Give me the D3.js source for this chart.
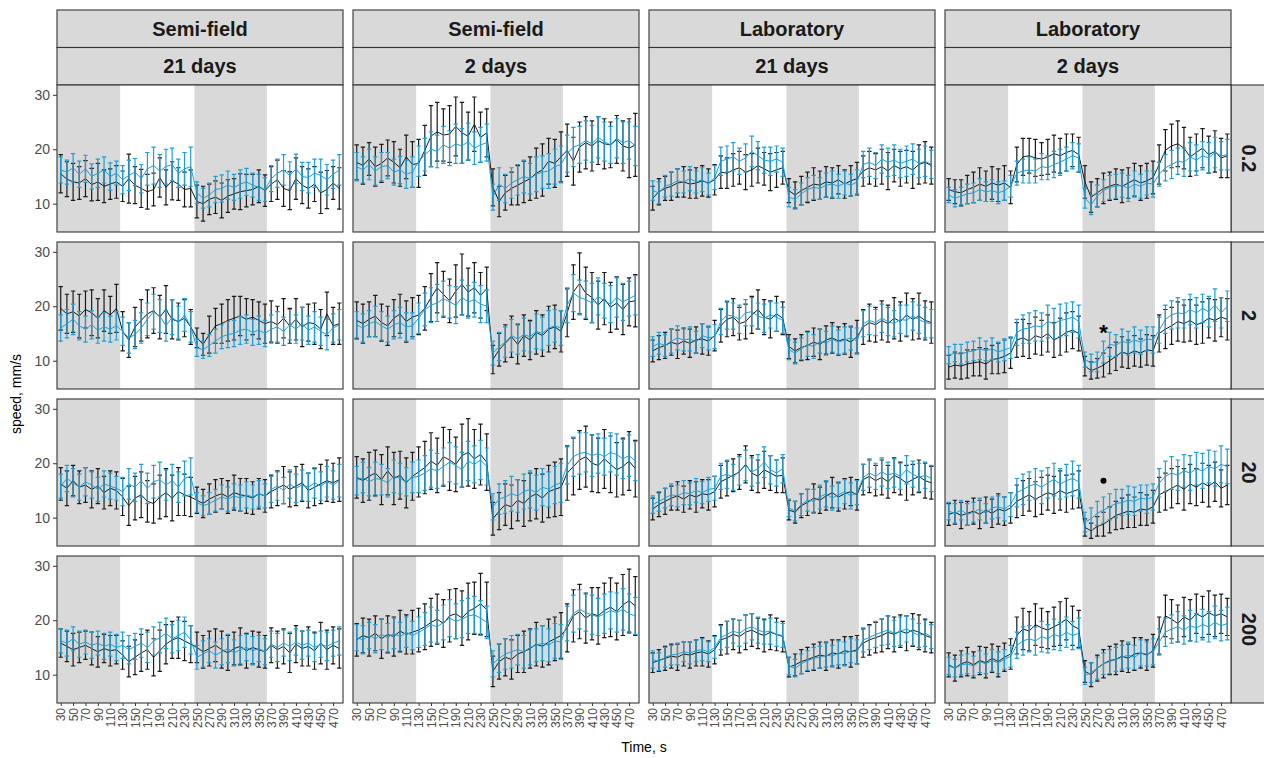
<!DOCTYPE html>
<html>
<head>
<meta charset="utf-8">
<script src="https://cdn.jsdelivr.net/npm/d3@7"></script>
<style>
body { margin: 0; background: #fff; }
text { font-family: "Liberation Sans", Arial, sans-serif; }
</style>
</head>
<body>
<div id="chart"></div>
<script>
// time points (s) and the labels shown on the x axis
var times = [30,40,50,60,70,80,90,100,110,120,130,140,150,160,170,180,190,200,210,220,230,240,
             250,260,270,280,290,300,310,320,330,340,350,360,370,380,390,400,410,420,430,440,450,460,470,480];
var timeLabels = [30,50,70,90,110,130,150,170,190,210,230,250,270,290,310,330,350,370,390,410,430,450,470];
var yTicks = [10,20,30];

// facet labels
var colSetting = ["Semi-field","Semi-field","Laboratory","Laboratory"];
var colDays = ["21 days","2 days","21 days","2 days"];
var rowConc = ["0.2","2","20","200"];

// shaded phases (s)
var darkPhases = [[24,126],[246,363]];

// significance marks
var signifMarks = [
  {row: 1, col: 3, t: 280, v: 16.3, sym: "*"},
  {row: 2, col: 3, t: 280, v: 16.8, sym: "dot"}
];

// ---- conc 0.2 ----
var sf21_c02_blk = [15.5,14.5,14.0,13.8,14.6,13.5,14.0,13.2,13.6,14.0, 13.2,14.6,13.4,12.8,12.2,12.6,14.8,13.0,14.2,13.6,12.6,12.8, 10.4,10.0,10.8,11.2,10.6,11.4,11.8,12.2,12.4,12.6,13.2,12.4, 13.6,14.4,12.8,12.4,14.6,13.4,12.8,13.6,12.0,12.6,13.8,12.8];
var sf21_c02_blk_err = [3.5,3.2,3.4,3.0,3.3,3.0,3.4,3.0,2.8,3.0, 2.8,4.5,3.4,3.5,3.2,3.0,3.6,3.2,3.5,3.0,3.2,3.4, 3.0,3.2,2.8,3.0,3.2,3.0,2.8,3.3,3.0,2.8,3.0,2.9, 3.2,3.6,3.3,3.5,3.8,3.4,3.6,3.2,3.8,3.5,3.0,3.8];
var sf21_c02_blu = [16.2,15.8,16.6,15.4,16.4,15.0,15.6,16.2,15.0,15.6, 14.4,15.2,15.8,14.6,16.4,17.0,16.0,16.8,17.2,15.6,16.4,16.8, 12.0,11.0,11.6,12.6,12.8,13.4,13.0,13.6,14.0,13.4,13.0,12.6, 14.6,15.6,16.2,15.2,16.4,15.0,14.8,15.6,15.2,14.4,15.4,16.2];
var sf21_c02_blu_err = [2.4,2.2,2.6,2.4,2.5,2.3,2.6,2.4,2.5,2.2, 2.6,2.8,2.5,2.6,3.0,3.4,3.0,3.2,3.0,2.6,3.0,3.6, 2.0,1.8,2.2,2.4,2.5,2.6,2.4,2.6,2.5,2.2,2.4,2.2, 2.4,2.6,2.8,2.5,2.7,2.6,2.8,2.6,3.0,2.8,2.6,2.8];

var sf2_c02_blk = [17.6,17.0,18.2,16.8,17.4,18.4,17.6,16.6,18.6,17.2, 17.4,19.8,22.4,23.2,22.6,22.8,24.2,23.0,22.4,24.6,22.2,23.0, 13.0,10.4,12.0,12.8,13.4,14.0,14.6,15.6,16.2,17.8,17.4,18.6, 19.8,17.8,20.4,21.2,20.6,21.6,21.0,20.8,21.8,20.6,20.2,20.8];
var sf2_c02_blk_err = [3.2,3.4,3.0,3.6,3.5,3.3,3.8,3.4,4.0,4.2, 4.4,4.6,5.6,5.4,4.8,5.2,5.4,5.6,4.4,5.0,4.6,4.4, 3.4,2.8,3.2,3.0,3.6,3.8,4.0,4.6,4.8,4.2,4.4,4.6, 4.8,4.4,4.6,4.8,4.6,4.4,4.6,4.2,4.4,4.6,5.4,5.8];
var sf2_c02_blu = [16.8,16.2,17.2,16.0,16.8,17.0,15.8,16.2,15.4,15.8, 17.8,19.0,20.0,19.6,20.8,20.2,21.0,20.6,21.4,20.2,20.8,21.2, 11.2,13.6,12.8,13.8,14.4,15.0,14.6,15.4,15.8,16.0,16.8,17.2, 19.2,20.4,20.8,21.6,21.0,22.2,21.4,20.8,22.0,21.2,21.6,20.6];
var sf2_c02_blu_err = [2.6,2.4,2.8,2.6,2.6,2.4,2.4,2.5,2.6,2.8, 2.8,3.0,3.2,3.0,3.4,3.2,3.6,3.2,3.4,3.0,3.2,3.4, 2.4,3.0,2.6,2.8,2.8,3.0,2.8,3.2,3.0,3.2,3.2,3.4, 3.4,3.6,3.4,3.6,3.4,3.8,3.6,3.4,3.6,3.8,3.4,3.6];

var lab21_c02_blk = [11.0,12.2,12.8,13.2,13.8,14.0,13.6,13.8,14.2,13.8, 14.4,15.8,15.6,16.2,16.6,15.8,16.2,17.0,16.4,15.8,16.2,16.6, 12.4,11.6,12.4,13.0,13.6,13.4,14.0,13.8,14.4,13.6,14.2,14.6, 16.0,16.6,16.2,16.8,16.0,17.0,16.4,16.8,16.2,17.2,17.6,17.0];
var lab21_c02_blk_err = [2.2,2.4,2.2,2.6,2.6,2.8,2.6,2.8,2.8,2.6, 2.8,3.0,2.8,3.0,3.0,3.2,3.0,3.2,3.0,3.4,3.2,3.0, 2.2,2.4,2.6,2.8,3.0,2.6,2.8,2.8,2.6,2.6,2.8,3.0, 2.8,3.0,3.0,3.2,3.4,3.0,3.2,3.0,3.4,3.6,3.8,3.4];
var lab21_c02_blu = [12.4,12.0,13.2,13.6,14.2,14.0,14.6,14.0,14.4,13.6, 14.8,17.8,18.2,18.6,17.8,18.4,19.6,18.8,18.0,17.8,18.2,17.6, 11.2,10.8,11.8,12.6,13.0,12.8,13.4,13.6,13.2,13.8,13.4,14.0, 17.2,17.6,17.0,18.2,17.6,18.0,17.4,17.8,18.2,17.4,17.8,17.2];
var lab21_c02_blu_err = [1.8,2.0,2.0,2.2,2.2,2.0,2.2,2.0,2.2,2.0, 2.2,2.6,2.4,2.6,2.4,2.6,2.8,2.6,2.4,2.6,2.4,2.6, 1.8,1.8,2.0,2.2,2.2,2.0,2.2,2.4,2.2,2.2,2.0,2.2, 2.4,2.6,2.4,2.6,2.6,2.8,2.6,2.8,2.8,2.6,2.8,2.6];

var lab2_c02_blk = [12.6,12.2,12.0,12.6,13.0,13.6,13.2,13.8,13.4,13.8, 13.0,17.2,18.6,18.8,18.4,18.2,18.6,19.2,18.8,19.4,19.8,19.0, 14.0,11.2,12.0,12.8,13.2,13.6,13.2,13.8,14.4,13.8,14.2,14.8, 17.2,19.8,20.6,21.0,20.2,18.6,19.4,20.2,19.0,19.6,18.4,18.8];
var lab2_c02_blk_err = [2.0,2.2,2.4,2.6,2.8,3.0,2.8,3.0,3.0,3.2, 3.0,3.2,3.4,3.2,3.4,3.0,3.2,3.4,3.2,3.4,3.0,3.2, 3.0,2.8,2.6,2.8,2.6,2.8,3.0,2.8,3.0,3.2,3.2,3.0, 3.6,3.8,4.0,4.2,3.8,3.6,3.4,3.6,3.4,3.8,3.6,4.0];
var lab2_c02_blu = [11.6,11.0,11.4,11.8,12.0,12.6,12.2,12.4,12.0,12.4, 13.2,15.6,16.0,16.2,16.0,16.8,16.6,17.2,17.6,18.2,18.8,18.4, 11.0,9.8,11.4,12.4,13.0,13.2,13.4,12.8,13.6,13.2,13.8,13.6, 15.4,16.6,17.2,17.8,17.6,18.6,18.0,18.8,18.4,19.4,18.8,19.0];
var lab2_c02_blu_err = [1.4,1.6,1.6,1.8,1.8,2.0,1.8,2.0,2.0,1.8, 2.0,2.2,2.2,2.4,2.2,2.4,2.2,2.4,2.4,2.2,2.4,2.6, 1.8,1.8,2.0,2.0,2.2,2.2,2.2,2.4,2.4,2.2,2.2,2.4, 2.2,2.4,2.6,2.4,2.6,2.6,2.8,2.6,2.8,2.8,2.6,2.8];

// ---- conc 2 ----
var sf21_c2_blk = [19.6,18.6,19.0,18.2,19.4,18.8,17.8,19.2,18.4,19.6, 15.4,13.8,16.2,17.4,18.6,19.2,18.0,19.4,17.6,17.2,17.8,16.2, 14.2,13.0,14.8,16.4,16.8,17.4,17.8,18.2,17.6,18.0,17.4,16.8, 17.2,16.6,17.8,16.4,17.6,16.2,17.0,16.8,15.8,18.6,16.4,16.8];
var sf21_c2_blk_err = [4.0,3.6,3.8,4.0,3.4,4.2,3.6,3.8,3.4,4.4, 3.6,3.2,3.6,3.8,4.4,4.2,4.0,4.4,3.6,3.4,3.4,3.2, 1.8,2.0,3.4,3.2,3.6,3.8,4.0,3.6,3.8,3.2,3.4,3.6, 3.8,3.4,3.6,3.2,3.8,3.6,3.4,3.8,3.6,4.0,3.4,3.8];
var sf21_c2_blu = [16.0,16.8,17.6,16.4,15.8,16.6,15.6,16.2,15.8,16.4, 15.4,14.2,14.8,16.0,17.6,19.0,18.2,16.4,18.0,17.0,18.4,16.2, 12.4,12.0,12.8,13.6,14.4,14.8,15.0,15.6,15.8,15.2,15.6,15.0, 15.8,16.2,15.4,16.6,15.8,16.8,15.6,16.2,15.4,14.8,16.0,16.6];
var sf21_c2_blu_err = [2.4,2.6,2.8,2.6,2.4,2.6,2.4,2.6,2.4,2.6, 2.6,2.8,2.6,2.8,3.0,3.2,3.0,2.8,3.2,3.0,3.0,2.8, 1.6,1.6,2.0,2.2,2.2,2.4,2.4,2.6,2.6,2.4,2.6,2.4, 2.6,2.8,2.6,2.8,2.6,3.0,2.6,2.8,2.6,2.8,2.6,2.8];

var sf2_c2_blk = [17.4,16.8,17.6,18.2,17.0,16.4,17.8,18.6,17.2,18.0, 18.4,19.6,21.6,23.4,22.2,21.0,22.8,24.0,22.6,23.4,22.0,23.2, 10.2,12.0,13.2,14.4,13.0,14.6,13.8,15.2,14.6,15.8,16.2,15.4, 18.8,22.6,24.2,22.4,21.6,20.2,21.4,19.8,20.6,19.4,20.8,21.0];
var sf2_c2_blk_err = [3.4,3.6,3.2,3.8,3.4,3.6,3.4,3.6,3.8,3.6, 3.6,4.0,4.4,4.6,4.2,4.0,4.8,5.6,4.4,4.6,4.2,4.0, 2.6,3.0,3.4,3.8,3.6,3.8,3.6,4.0,3.8,4.2,4.0,3.8, 4.4,5.0,5.6,4.8,4.6,4.4,4.8,4.6,4.8,4.6,4.4,4.8];
var sf2_c2_blu = [16.6,16.0,16.8,17.2,16.4,15.8,16.6,17.0,16.2,16.4, 17.8,19.4,20.2,20.6,21.4,20.8,20.2,21.6,20.8,21.2,20.4,20.0, 11.4,12.6,13.4,14.6,14.0,14.8,14.4,15.4,15.0,16.0,16.4,16.0, 20.2,22.4,21.6,21.2,20.6,21.8,21.0,20.4,21.6,20.8,21.4,22.0];
var sf2_c2_blu_err = [2.4,2.6,2.4,2.8,2.6,2.4,2.6,2.8,2.6,2.4, 2.8,3.0,3.2,3.4,3.2,3.0,3.4,3.2,3.0,3.2,3.4,3.0, 2.2,2.6,2.8,3.0,2.8,3.0,2.8,3.2,3.0,3.2,3.0,3.2, 3.2,3.4,3.2,3.4,3.6,3.4,3.2,3.4,3.6,3.4,3.2,3.6];

var lab21_c2_blk = [11.8,12.4,12.8,13.4,13.0,13.6,13.2,13.8,14.0,13.6, 14.6,16.4,17.6,18.0,16.8,17.2,18.4,19.4,18.0,17.6,18.6,17.8, 12.6,11.8,12.4,12.8,13.4,13.0,13.8,14.2,13.6,14.0,13.4,14.4, 16.2,17.0,16.6,17.4,16.8,17.8,17.2,18.4,17.6,18.2,17.4,17.0];
var lab21_c2_blk_err = [2.0,2.2,2.4,2.4,2.6,2.4,2.6,2.4,2.8,2.6, 2.8,3.0,3.2,3.4,3.0,3.2,3.4,3.6,3.2,3.4,3.2,3.0, 2.2,2.2,2.4,2.6,2.6,2.8,2.6,2.8,2.6,2.8,2.8,3.0, 3.2,3.4,3.2,3.6,3.4,3.8,3.6,4.0,3.8,4.2,3.6,3.8];
var lab21_c2_blu = [12.6,13.2,12.8,13.6,14.2,13.8,14.0,13.4,14.6,14.2, 14.4,17.2,18.4,18.2,17.6,18.8,19.0,18.2,17.8,18.4,18.0,17.4, 12.0,11.4,12.2,13.0,12.6,13.6,13.2,14.0,13.4,13.8,14.2,13.6, 16.8,17.4,17.0,17.8,17.2,16.8,17.6,17.4,18.2,17.6,17.0,16.8];
var lab21_c2_blu_err = [1.8,2.0,2.0,2.2,2.2,2.0,2.2,2.0,2.2,2.2, 2.2,2.4,2.6,2.4,2.6,2.4,2.6,2.4,2.6,2.4,2.6,2.4, 1.8,2.0,2.0,2.2,2.2,2.2,2.2,2.4,2.2,2.4,2.2,2.4, 2.4,2.6,2.4,2.6,2.6,2.4,2.6,2.8,2.6,2.6,2.8,2.6];

var lab2_c2_blk = [8.8,9.2,9.0,9.4,9.6,9.8,9.4,10.2,10.4,10.8, 11.4,13.8,14.2,13.6,14.6,14.2,15.0,13.8,14.4,15.2,15.6,15.0, 9.0,8.2,8.6,9.2,10.0,10.8,11.6,11.2,11.8,11.4,12.0,11.8, 15.0,15.8,16.4,17.2,16.8,17.4,16.6,17.0,17.8,17.4,18.0,17.6];
var lab2_c2_blk_err = [2.2,2.4,2.4,2.6,2.4,2.6,2.8,2.6,2.8,3.0, 2.8,3.2,3.4,3.2,3.4,3.2,3.4,3.2,3.4,3.6,3.4,3.2, 1.8,1.6,1.8,2.2,2.4,2.6,2.8,2.6,2.8,2.6,2.8,2.8, 3.4,3.6,3.4,3.6,3.4,3.8,3.6,3.8,3.6,3.8,3.6,3.8];
var lab2_c2_blu = [11.0,11.4,11.2,11.6,11.8,12.2,11.8,12.2,11.6,12.0, 12.4,15.2,15.8,16.0,16.4,16.2,17.2,16.8,17.4,17.6,18.0,17.2, 10.2,9.6,9.8,11.6,13.0,12.8,13.6,13.2,13.8,13.4,14.0,13.8, 15.6,17.6,18.4,18.8,18.6,19.4,18.8,19.6,19.0,20.2,18.8,20.0];
var lab2_c2_blu_err = [1.6,1.6,1.8,1.8,1.8,2.0,1.8,2.0,1.8,2.0, 2.0,2.4,2.6,2.8,2.8,2.6,3.0,2.8,3.0,3.0,2.8,3.0, 1.4,1.6,1.8,2.0,2.2,2.0,2.2,2.2,2.4,2.2,2.2,2.4, 2.4,2.6,2.6,2.8,2.6,2.8,2.8,2.6,2.8,3.0,2.8,2.8];

// ---- conc 20 ----
var sf21_c20_blk = [16.2,15.4,16.8,15.6,16.0,15.2,15.8,14.6,15.4,15.0, 13.8,12.2,13.6,14.2,13.0,12.6,13.8,14.6,13.6,14.8,14.2,13.8, 13.2,12.6,13.4,14.0,14.4,13.8,14.6,14.2,14.0,13.6,14.4,14.0, 14.8,15.4,16.0,15.2,15.8,16.4,15.0,15.6,16.2,16.8,16.4,17.0];
var sf21_c20_blk_err = [3.0,3.2,2.8,3.0,3.2,3.4,3.2,3.0,3.2,3.4, 3.4,3.6,4.0,4.2,3.8,3.6,4.0,4.4,4.2,4.4,3.8,3.6, 2.4,2.6,2.8,3.0,2.8,3.0,3.2,3.0,3.2,3.0,2.8,3.0, 3.0,3.2,3.4,3.2,3.6,3.4,3.2,3.4,3.6,3.8,3.6,4.0];
var sf21_c20_blu = [15.8,17.2,16.4,15.6,16.6,16.0,15.2,16.2,15.8,15.4, 14.8,16.2,15.6,16.8,15.4,16.6,17.0,16.0,16.8,15.6,17.2,17.6, 12.8,12.2,12.6,13.2,13.8,13.4,14.0,13.6,14.2,13.8,14.4,14.0, 15.2,15.8,15.0,16.2,15.4,16.0,15.6,16.4,15.8,16.6,16.0,16.8];
var sf21_c20_blu_err = [2.2,2.4,2.6,2.4,2.6,2.4,2.2,2.4,2.4,2.2, 2.6,2.8,2.6,3.0,2.8,3.0,3.2,2.8,3.0,2.8,3.2,3.4, 1.8,1.8,2.0,2.0,2.2,2.2,2.2,2.4,2.4,2.2,2.4,2.2, 2.4,2.6,2.4,2.6,2.6,2.8,2.6,2.8,2.6,2.8,2.6,3.0];

var sf2_c20_blk = [17.4,16.8,17.6,18.2,17.0,18.6,17.2,17.8,16.4,17.6, 18.4,19.2,20.4,19.6,21.2,20.6,19.8,21.4,22.0,20.8,21.6,20.2, 9.8,11.2,12.4,12.0,13.2,12.6,13.8,14.4,13.6,14.8,15.2,15.6, 18.2,19.4,20.6,21.2,20.0,19.6,20.8,19.8,18.8,19.4,20.4,19.0];
var sf2_c20_blk_err = [3.8,4.0,4.4,4.2,4.6,4.4,4.8,4.4,4.6,4.4, 4.6,4.8,5.2,5.0,5.4,5.6,5.0,5.8,6.2,5.4,5.6,5.2, 3.0,3.4,3.8,4.0,3.8,4.2,4.4,4.6,4.4,4.8,5.0,5.2, 5.0,5.2,5.4,5.6,5.2,5.0,5.4,5.2,5.0,5.2,5.4,5.2];
var sf2_c20_blu = [16.8,17.4,16.6,17.2,17.0,16.4,17.6,17.2,16.6,17.4, 17.6,18.2,19.0,18.6,19.4,20.2,19.6,18.8,20.4,19.8,20.6,19.4, 12.0,13.4,13.8,14.4,14.0,14.8,15.2,14.6,15.6,15.2,16.0,16.4, 19.6,21.2,21.8,22.0,21.4,21.8,21.2,22.0,21.6,20.8,21.4,20.4];
var sf2_c20_blu_err = [2.6,2.8,2.6,3.0,2.8,2.6,3.0,2.8,2.6,2.8, 3.0,3.2,3.4,3.2,3.4,3.6,3.4,3.2,3.6,3.4,3.6,3.4, 2.4,2.8,3.0,3.2,3.0,3.2,3.4,3.2,3.4,3.2,3.4,3.6, 3.4,3.6,3.8,3.6,3.8,3.6,3.4,3.6,3.8,3.6,3.8,3.6];

var lab21_c20_blk = [11.6,12.4,13.0,13.6,14.0,13.4,14.2,13.8,14.4,14.2, 14.8,16.6,17.2,17.8,18.4,19.8,18.2,17.6,18.8,18.2,17.6,17.8, 11.4,11.0,12.2,12.8,13.6,13.2,14.0,14.6,13.8,14.4,14.8,14.2, 17.0,17.6,16.8,17.4,16.6,17.8,17.2,16.4,17.0,17.6,16.8,16.4];
var lab21_c20_blk_err = [2.0,2.2,2.4,2.2,2.6,2.4,2.6,2.8,2.6,2.8, 2.8,3.0,3.2,3.0,3.2,3.4,3.2,3.0,3.4,3.2,3.0,3.2, 1.8,2.0,2.2,2.4,2.6,2.4,2.6,2.8,2.6,2.8,2.6,2.8, 2.8,3.0,2.8,3.2,3.0,3.2,3.0,3.2,2.8,3.0,3.2,3.0];
var lab21_c20_blu = [12.4,13.0,13.6,14.2,14.0,14.6,14.4,15.0,14.6,15.2, 15.4,17.6,18.0,17.4,18.6,19.6,18.4,19.0,20.2,18.8,18.2,19.0, 11.8,11.2,12.4,13.2,13.0,13.8,14.4,13.6,14.2,14.8,14.0,14.6, 17.4,18.2,17.6,18.4,17.8,18.2,17.6,18.8,18.0,17.4,17.8,17.2];
var lab21_c20_blu_err = [1.6,1.8,1.8,2.0,2.0,2.2,2.0,2.2,2.0,2.2, 2.2,2.4,2.6,2.4,2.6,2.8,2.6,2.6,2.8,2.6,2.4,2.6, 1.6,1.8,2.0,2.0,2.2,2.2,2.4,2.2,2.4,2.2,2.4,2.2, 2.4,2.6,2.4,2.6,2.4,2.6,2.4,2.6,2.4,2.6,2.4,2.4];

var lab2_c20_blk = [10.6,11.0,10.4,10.8,11.2,10.6,11.4,10.8,11.6,11.2, 11.8,13.0,13.6,14.2,13.4,14.0,14.6,14.2,15.0,14.4,14.8,15.2, 8.2,7.6,8.4,8.8,9.6,10.4,10.8,11.2,11.0,11.6,11.4,12.0, 14.2,14.8,15.4,16.0,15.2,16.2,15.6,16.4,15.8,16.6,15.4,16.0];
var lab2_c20_blk_err = [2.0,2.2,2.4,2.2,2.4,2.6,2.4,2.6,2.8,2.6, 2.8,3.0,3.2,3.0,3.2,3.4,3.2,3.4,3.6,3.4,3.2,3.4, 1.6,1.4,1.8,2.2,2.4,2.6,2.8,3.0,2.8,3.0,2.8,3.0, 3.2,3.4,3.6,3.4,3.8,3.6,3.4,3.6,3.8,3.6,3.4,3.6];
var lab2_c20_blu = [11.2,10.8,11.4,10.6,11.0,11.6,10.8,11.8,12.0,11.6, 12.4,14.6,15.2,15.8,16.2,15.6,16.4,17.0,16.2,16.8,17.2,16.6, 9.2,9.8,10.8,11.4,12.0,12.6,12.8,13.2,13.0,13.6,13.4,13.8, 16.4,17.6,18.2,17.8,18.6,18.2,19.0,18.6,19.4,19.0,19.8,19.4];
var lab2_c20_blu_err = [1.6,1.8,1.8,2.0,1.8,2.0,1.8,2.0,2.0,2.2, 2.2,2.6,2.8,2.6,2.8,3.0,2.8,3.0,2.8,3.0,3.2,3.0, 1.8,2.0,2.2,2.4,2.4,2.6,2.4,2.6,2.6,2.4,2.6,2.4, 2.6,2.8,3.0,2.8,3.0,3.2,3.0,3.2,3.0,3.2,3.4,3.2];

// ---- conc 200 ----
var sf21_c200_blk = [15.8,15.2,14.6,15.0,15.4,14.8,14.2,14.8,14.4,14.6, 13.6,12.4,13.2,14.0,14.6,13.2,14.4,15.6,16.4,16.8,16.2,15.6, 15.0,14.2,14.8,15.4,14.6,14.0,14.8,15.2,14.4,15.0,14.6,14.2, 15.4,14.6,15.2,14.0,15.6,14.8,15.2,14.4,15.8,14.6,15.4,14.8];
var sf21_c200_blk_err = [2.6,2.8,3.0,2.8,2.6,3.0,2.8,2.6,2.8,2.6, 2.6,2.8,3.2,3.4,3.6,3.4,3.8,3.6,3.4,3.8,3.6,3.4, 2.8,3.0,3.2,3.0,3.4,3.2,3.0,3.4,3.2,3.0,3.2,3.0, 3.2,3.4,3.2,3.6,3.4,3.2,3.6,3.4,3.8,3.6,3.4,3.6];
var sf21_c200_blu = [16.2,15.8,16.6,15.6,16.0,15.4,15.8,15.2,15.6,15.0, 15.4,14.6,15.2,15.8,15.0,16.2,16.8,17.6,16.6,17.2,17.8,16.4, 13.2,13.8,14.4,13.6,14.2,14.8,14.0,14.6,15.0,14.4,14.8,14.2, 15.6,15.0,15.8,15.2,16.0,15.4,15.8,15.0,15.6,15.2,15.8,16.2];
var sf21_c200_blu_err = [2.2,2.4,2.2,2.4,2.2,2.4,2.2,2.4,2.2,2.4, 2.4,2.6,2.4,2.6,2.8,2.6,2.8,2.8,2.6,2.8,2.8,2.6, 2.2,2.4,2.2,2.4,2.4,2.6,2.4,2.6,2.4,2.6,2.4,2.4, 2.4,2.6,2.4,2.6,2.4,2.6,2.4,2.6,2.4,2.6,2.4,2.6];

var sf2_c200_blk = [16.4,17.2,16.8,17.6,16.6,17.4,17.0,18.0,17.4,17.8, 18.2,18.8,19.6,20.2,19.4,20.8,21.2,20.4,21.6,22.2,23.0,22.0, 10.6,12.4,13.2,12.8,13.8,14.2,14.8,15.6,15.2,16.0,16.6,17.2, 18.6,20.8,21.6,20.4,21.2,20.8,21.8,22.4,21.6,22.8,23.6,22.6];
var sf2_c200_blk_err = [3.0,3.2,3.4,3.2,3.6,3.4,3.6,3.8,3.6,4.0, 4.0,4.2,4.4,4.6,4.4,4.8,4.6,5.0,5.2,4.8,5.6,5.0, 2.8,3.2,3.4,3.6,3.4,3.8,3.6,4.0,3.8,4.2,4.0,4.2, 4.4,4.8,5.0,4.6,4.8,5.2,5.0,5.4,5.2,5.6,5.8,5.4];
var sf2_c200_blu = [16.8,16.4,17.2,16.6,17.4,16.8,17.6,17.0,17.8,17.2, 17.8,18.4,19.2,18.8,19.6,20.4,19.8,20.2,20.8,21.0,20.4,19.6, 12.0,13.0,13.8,14.2,14.6,14.2,15.0,15.4,15.8,15.4,16.2,16.0, 19.4,21.2,22.0,21.4,21.0,20.6,21.2,21.8,21.4,22.0,21.2,20.8];
var sf2_c200_blu_err = [2.4,2.6,2.4,2.6,2.8,2.6,2.8,2.6,2.8,2.6, 2.8,3.0,3.2,3.0,3.2,3.4,3.2,3.4,3.2,3.4,3.2,3.0, 2.4,2.6,2.8,3.0,2.8,3.0,3.2,3.0,3.2,3.0,3.2,3.2, 3.2,3.4,3.6,3.4,3.6,3.4,3.6,3.4,3.6,3.8,3.6,3.4];

var lab21_c200_blk = [12.2,12.6,13.0,13.4,13.2,13.8,13.6,14.0,14.2,13.8, 14.6,16.4,16.8,17.4,17.0,17.8,18.2,17.6,17.2,17.8,17.4,17.0, 11.4,11.8,12.4,12.8,13.2,13.6,13.4,14.0,13.8,14.4,14.2,14.6, 15.8,16.4,16.8,17.2,17.8,17.4,18.0,17.6,18.2,17.8,17.2,16.8];
var lab21_c200_blk_err = [1.8,2.0,2.2,2.2,2.4,2.2,2.4,2.4,2.6,2.4, 2.6,2.8,3.0,2.8,3.0,3.2,3.0,2.8,3.0,3.2,3.0,2.8, 1.8,2.0,2.2,2.2,2.4,2.4,2.6,2.4,2.6,2.6,2.8,2.6, 2.6,2.8,2.8,3.0,3.0,3.2,3.0,3.2,3.0,3.2,3.0,2.8];
var lab21_c200_blu = [12.8,12.4,13.2,13.6,13.8,14.2,14.0,14.4,14.6,14.2, 15.0,16.8,17.4,18.0,17.6,18.4,18.8,18.2,17.8,18.0,17.4,17.2, 11.6,11.2,12.0,12.6,13.0,13.2,13.6,13.4,14.0,13.8,14.4,14.2, 16.4,16.8,17.4,17.8,18.2,17.6,18.0,18.4,17.8,17.2,17.6,17.0];
var lab21_c200_blu_err = [1.6,1.6,1.8,1.8,2.0,1.8,2.0,2.0,2.0,1.8, 2.0,2.2,2.4,2.2,2.4,2.6,2.4,2.4,2.2,2.4,2.2,2.2, 1.6,1.6,1.8,1.8,2.0,2.0,2.2,2.0,2.2,2.2,2.2,2.2, 2.2,2.2,2.4,2.4,2.6,2.4,2.6,2.4,2.4,2.2,2.4,2.2];

var lab2_c200_blk = [11.8,11.2,12.0,12.4,11.8,12.6,12.2,13.0,12.4,13.2, 13.8,17.2,18.4,18.0,19.2,18.6,18.2,18.8,19.4,20.2,19.0,18.4, 10.6,10.0,11.2,12.0,12.6,12.8,13.4,13.0,13.8,14.0,13.6,14.4, 17.2,20.8,20.2,19.4,20.6,20.0,21.2,20.6,21.4,20.8,21.2,20.6];
var lab2_c200_blk_err = [2.2,2.4,2.4,2.6,2.4,2.6,2.8,2.6,2.8,2.6, 2.8,3.4,3.8,3.6,3.8,3.6,3.4,3.6,4.0,3.8,3.6,3.4, 2.0,2.2,2.4,2.6,2.6,2.8,2.8,2.6,3.0,2.8,2.8,3.0, 3.4,3.8,3.6,3.4,3.6,3.8,3.6,3.8,4.0,3.8,3.6,3.4];
var lab2_c200_blu = [11.6,11.2,11.8,12.0,11.6,12.4,12.0,12.6,12.2,12.8, 13.4,15.4,16.2,16.6,16.2,17.0,16.6,17.4,17.0,17.8,17.2,17.6, 9.8,10.4,11.2,12.0,12.4,12.8,13.2,13.6,13.2,14.0,13.8,14.2, 16.0,17.8,18.4,18.8,18.2,19.0,18.6,19.2,18.8,19.6,19.0,19.4];
var lab2_c200_blu_err = [1.6,1.6,1.8,1.8,1.8,2.0,1.8,2.0,2.0,1.8, 2.0,2.4,2.6,2.4,2.6,2.8,2.6,2.8,2.6,2.8,2.6,2.8, 1.6,1.8,2.0,2.0,2.2,2.2,2.2,2.4,2.2,2.4,2.2,2.4, 2.4,2.6,2.6,2.8,2.6,2.8,2.6,2.8,2.8,3.0,2.8,3.0];

// panel grid: rows = concentration, cols = setting/exposure
var grid = [
  [[sf21_c02_blk, sf21_c02_blk_err, sf21_c02_blu, sf21_c02_blu_err],
   [sf2_c02_blk, sf2_c02_blk_err, sf2_c02_blu, sf2_c02_blu_err],
   [lab21_c02_blk, lab21_c02_blk_err, lab21_c02_blu, lab21_c02_blu_err],
   [lab2_c02_blk, lab2_c02_blk_err, lab2_c02_blu, lab2_c02_blu_err]],
  [[sf21_c2_blk, sf21_c2_blk_err, sf21_c2_blu, sf21_c2_blu_err],
   [sf2_c2_blk, sf2_c2_blk_err, sf2_c2_blu, sf2_c2_blu_err],
   [lab21_c2_blk, lab21_c2_blk_err, lab21_c2_blu, lab21_c2_blu_err],
   [lab2_c2_blk, lab2_c2_blk_err, lab2_c2_blu, lab2_c2_blu_err]],
  [[sf21_c20_blk, sf21_c20_blk_err, sf21_c20_blu, sf21_c20_blu_err],
   [sf2_c20_blk, sf2_c20_blk_err, sf2_c20_blu, sf2_c20_blu_err],
   [lab21_c20_blk, lab21_c20_blk_err, lab21_c20_blu, lab21_c20_blu_err],
   [lab2_c20_blk, lab2_c20_blk_err, lab2_c20_blu, lab2_c20_blu_err]],
  [[sf21_c200_blk, sf21_c200_blk_err, sf21_c200_blu, sf21_c200_blu_err],
   [sf2_c200_blk, sf2_c200_blk_err, sf2_c200_blu, sf2_c200_blu_err],
   [lab21_c200_blk, lab21_c200_blk_err, lab21_c200_blu, lab21_c200_blu_err],
   [lab2_c200_blk, lab2_c200_blk_err, lab2_c200_blu, lab2_c200_blu_err]]
];

drawGrid();

function drawGrid() {
    var colX = [57, 353, 649, 945],
        rowY = [85, 242, 399, 556],
        width = 286,
        height = 147,
        stripH = 37.5,
        blue = "#1f9fd6",
        dark = "#1a1a1a";

    var xScale = d3.scaleLinear()
        .domain([24, 486])
        .range([0, width]);

    var yScale = d3.scaleLinear()
        .domain([4.8, 31.8])
        .range([height, 0]);

    var svg = d3.select("#chart").append("svg")
        .attr("width", 1264)
        .attr("height", 758);

    // top strips
    colX.forEach(function(cx, j) {
        [colSetting[j], colDays[j]].forEach(function(lab, k) {
            var sy = 10 + k * stripH;
            svg.append("rect")
                .attr("x", cx).attr("y", sy)
                .attr("width", width).attr("height", stripH)
                .attr("fill", "#d9d9d9").attr("stroke", "#333").attr("stroke-width", 1.1);
            svg.append("text")
                .attr("x", cx + width / 2).attr("y", sy + stripH / 2)
                .attr("dy", "0.36em")
                .style("text-anchor", "middle")
                .style("font-size", "20px").style("font-weight", "bold")
                .attr("fill", dark)
                .text(lab);
        });
    });

    // right strips
    rowY.forEach(function(ry, i) {
        svg.append("rect")
            .attr("x", colX[3] + width).attr("y", ry)
            .attr("width", 40).attr("height", height)
            .attr("fill", "#d9d9d9").attr("stroke", "#333").attr("stroke-width", 1.1);
        svg.append("text")
            .attr("transform", "translate(" + (colX[3] + width + 18) + "," + (ry + height / 2) + ") rotate(90)")
            .attr("dy", "0.36em")
            .style("text-anchor", "middle")
            .style("font-size", "20px").style("font-weight", "bold")
            .attr("fill", dark)
            .text(rowConc[i]);
    });

    var line = d3.line()
        .x(function(d) { return xScale(d.t); })
        .y(function(d) { return yScale(d.v); });

    rowY.forEach(function(ry, i) {
        colX.forEach(function(cx, j) {
            var g = svg.append("g")
                .attr("transform", "translate(" + cx + "," + ry + ")");

            g.append("rect")
                .attr("width", width).attr("height", height)
                .attr("fill", "#fff");

            g.selectAll(".band")
                .data(darkPhases)
                .enter().append("rect")
                .attr("x", function(d) { return xScale(d[0]); })
                .attr("width", function(d) { return xScale(d[1]) - xScale(d[0]); })
                .attr("y", 0).attr("height", height)
                .attr("fill", "#d9d9d9");

            var p = grid[i][j];
            var series = [
                {mean: p[0], err: p[1], color: dark},
                {mean: p[2], err: p[3], color: blue}
            ];

            series.forEach(function(s) {
                var pts = times.map(function(t, k) {
                    return {t: t, v: s.mean[k], e: s.err[k]};
                });

                g.append("path")
                    .attr("d", pts.map(function(d) {
                        var x = xScale(d.t), hi = yScale(d.v + d.e), lo = yScale(d.v - d.e);
                        return "M" + (x - 2.2) + "," + hi + "H" + (x + 2.2) +
                               "M" + x + "," + hi + "V" + lo +
                               "M" + (x - 2.2) + "," + lo + "H" + (x + 2.2);
                    }).join(""))
                    .attr("fill", "none")
                    .attr("stroke", s.color)
                    .attr("stroke-width", 1.2);

                g.append("path")
                    .datum(pts)
                    .attr("d", line)
                    .attr("fill", "none")
                    .attr("stroke", s.color)
                    .attr("stroke-width", 1);
            });

            signifMarks.filter(function(m) { return m.row == i && m.col == j; })
                .forEach(function(m) {
                    if (m.sym == "dot") {
                        g.append("circle")
                            .attr("cx", xScale(m.t)).attr("cy", yScale(m.v))
                            .attr("r", 3).attr("fill", "#000");
                    } else {
                        g.append("text")
                            .attr("x", xScale(m.t)).attr("y", yScale(m.v))
                            .attr("dy", "0.6em")
                            .style("text-anchor", "middle")
                            .style("font-size", "22px").style("font-weight", "bold")
                            .text(m.sym);
                    }
                });

            g.append("rect")
                .attr("width", width).attr("height", height)
                .attr("fill", "none").attr("stroke", "#333").attr("stroke-width", 1.1);

            if (j == 0) {
                var ya = g.append("g").call(d3.axisLeft(yScale).tickValues(yTicks).tickSize(4).tickPadding(3));
                ya.select(".domain").remove();
                ya.selectAll("line").attr("stroke", "#333");
                ya.selectAll("text").attr("fill", "#4d4d4d").style("font-size", "14px")
                    .style("font-family", "Liberation Sans, Arial, sans-serif");
            }

            if (i == rowY.length - 1) {
                var xa = g.append("g")
                    .attr("transform", "translate(0," + height + ")")
                    .call(d3.axisBottom(xScale).tickValues(timeLabels).tickSize(3).tickPadding(2));
                xa.select(".domain").remove();
                xa.selectAll("line").attr("stroke", "#333");
                xa.selectAll("text")
                    .attr("fill", "#4d4d4d")
                    .style("font-size", "12px")
                    .style("font-family", "Liberation Sans, Arial, sans-serif")
                    .attr("transform", "rotate(-90)")
                    .attr("x", -5).attr("y", 0).attr("dy", "0.35em")
                    .style("text-anchor", "end");
            }
        });
    });

    svg.append("text")
        .attr("x", colX[0] + (colX[3] + width - colX[0]) / 2)
        .attr("y", 752)
        .style("text-anchor", "middle")
        .style("font-size", "14px")
        .text("Time, s");

    svg.append("text")
        .attr("transform", "rotate(-90)")
        .attr("x", -(rowY[0] + (rowY[3] + height - rowY[0]) / 2))
        .attr("y", 21)
        .style("text-anchor", "middle")
        .style("font-size", "14px")
        .text("speed, mm/s");
}
</script>
</body>
</html>
